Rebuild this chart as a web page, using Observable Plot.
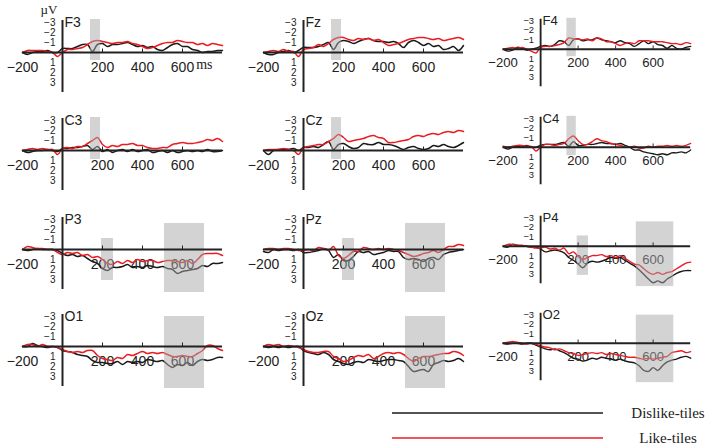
<!DOCTYPE html>
<html><head><meta charset="utf-8">
<script src="https://cdn.jsdelivr.net/npm/d3@7"></script>
<script src="https://cdn.jsdelivr.net/npm/@observablehq/plot@0.6"></script>
<style>
body{margin:0;background:#fff;}
#chart{position:relative;width:708px;height:445px;overflow:hidden;font-family:"Liberation Sans",Arial,sans-serif;}
.panel{position:absolute;}
.panel svg{overflow:visible;}
</style></head><body><div id="chart"></div>
<script>
// sample times (ms)
const times = [-200,-175,-150,-125,-100,-75,-50,-25,0,25,50,75,100,125,150,175,200,225,250,275,300,325,350,375,400,425,450,475,500,525,550,575,600,625,650,675,700,725,750,775,800];

// amplitudes (µV), negative is up
const likeF3 = [0,-0.2,-0.2,-0.2,-0.2,-0.1,0,0.4, 0,-0.3,-0.3,-0.4,-0.5,-0.8,-1.1,-1.2,-1.1,-1.0,-0.9,-1.0,-1.0,-1.1,-0.9,-0.8,-0.6,-0.4,-0.5,-0.7,-0.9,-1.0,-1.0,-1.2,-1.1,-1.0,-1.0,-0.8,-0.9,-0.7,-0.9,-0.8,-0.7];
const dislikeF3 = [0,0.2,0,-0.1,-0.1,-0.2,0,0, -0.4,-0.4,-0.4,-0.6,-0.8,-0.8,-0.1,-0.8,-0.9,-0.6,-0.8,-0.8,-0.9,-1.0,-0.8,-0.6,-0.7,-0.5,-0.6,-0.3,-0.2,-0.5,-0.8,-0.9,-0.6,-0.6,-0.3,-0.2,0,-0.1,-0.1,-0.2,-0.2];
const likeFz = [0,-0.1,-0.2,-0.1,-0.3,-0.1,-0.1,0.4, -0.3,-0.4,-0.5,-0.8,-0.6,-0.9,-1.3,-1.5,-1.5,-1.3,-1.2,-1.4,-1.3,-1.4,-1.2,-1.3,-1.0,-0.7,-0.8,-0.9,-1.1,-1.3,-1.4,-1.5,-1.5,-1.4,-1.3,-1.4,-1.2,-1.3,-1.4,-1.5,-1.3];
const dislikeFz = [0,0.2,0.2,0,-0.1,-0.2,0,-0.2, -0.5,-0.5,-0.5,-0.6,-0.8,-1.0,-0.3,-1.0,-1.2,-1.1,-0.9,-1.1,-1.3,-1.4,-1.2,-1.1,-1.1,-1.0,-1.1,-0.9,-0.5,-1.0,-1.2,-1.0,-0.7,-0.9,-0.6,-0.7,-0.3,-0.4,-0.6,-0.2,-0.7];
const likeF4 = [0,-0.1,-0.2,-0.1,-0.2,0,0.2,0.4, -0.2,-0.3,-0.3,-0.4,-0.5,-0.7,-1.2,-1.1,-1.1,-1.0,-1.1,-0.9,-1.2,-1.1,-0.8,-0.8,-0.6,-0.4,-0.6,-0.7,-0.6,-0.9,-0.9,-0.9,-0.8,-0.8,-0.8,-0.7,-0.6,-0.6,-0.5,-0.7,-0.6];
const dislikeF4 = [0,0.2,0.1,-0.2,-0.1,0.1,0,-0.1, -0.3,-0.4,-0.3,-0.5,-0.9,-0.8,-0.4,-1.0,-1.1,-0.9,-1.0,-1.0,-1.2,-1.0,-0.9,-0.8,-0.7,-0.9,-0.7,-0.6,-0.3,-0.6,-0.9,-0.6,-0.8,-0.5,-0.4,-0.1,-0.4,-0.1,0,-0.2,-0.3];
const likeC3 = [0,-0.1,-0.2,-0.1,-0.2,-0.1,-0.1,0.4, -0.2,-0.3,-0.2,-0.4,-0.4,-0.7,-1.0,-1.3,-0.6,-0.3,-0.5,-0.4,-0.6,-0.6,-0.7,-0.5,-0.5,-0.3,-0.2,-0.2,-0.3,-0.3,-0.6,-0.7,-0.8,-0.7,-0.7,-0.8,-0.9,-1.1,-1.0,-1.2,-0.9];
const dislikeC3 = [0,0.2,0.1,0,0,-0.1,0,0.1, -0.2,-0.2,-0.3,-0.3,-0.4,-0.5,-0.1,-0.4,0.1,-0.1,0.2,0,-0.1,0.1,-0.1,0.1,0,-0.1,0.2,0.1,0,0.2,0,0.2,0.1,0,0.1,0,0.1,-0.1,0.1,0.1,0];
const likeCz = [0,-0.1,-0.1,-0.1,-0.2,-0.1,0,0.4, -0.3,-0.4,-0.5,-0.6,-0.6,-0.9,-1.2,-1.6,-1.3,-0.9,-1.0,-1.1,-1.2,-1.4,-1.5,-1.3,-1.2,-0.8,-0.8,-0.9,-1.0,-1.1,-1.4,-1.5,-1.4,-1.6,-1.7,-1.6,-1.8,-1.9,-1.8,-2.0,-1.9];
const dislikeCz = [0,0.4,0,-0.1,-0.1,-0.1,-0.2,0, -0.3,-0.3,-0.4,-0.3,-0.6,-0.9,-0.1,-0.6,-0.7,-0.4,-0.2,-0.3,-0.7,-0.6,-0.6,-0.8,-0.6,-0.6,-0.5,-0.3,-0.1,-0.3,-0.4,-0.2,-0.1,-0.2,-0.5,-0.4,-0.6,-0.4,-0.3,-0.5,-0.8];
const likeC4 = [-0.1,0,-0.1,-0.2,-0.2,-0.1,-0.1,0.4, 0,-0.3,-0.3,-0.2,-0.3,-0.4,-0.9,-1.2,-0.7,-0.3,-0.3,-0.6,-0.9,-0.7,-0.6,-0.4,-0.3,-0.2,0,0,-0.1,0.1,0.1,-0.1,0,-0.1,-0.1,-0.2,-0.1,-0.2,-0.1,-0.2,-0.4];
const dislikeC4 = [0,0.2,0,-0.1,0,-0.2,0,0, -0.2,-0.3,-0.3,-0.3,-0.4,-0.5,-0.1,-0.6,-0.2,-0.2,-0.3,-0.3,-0.4,-0.5,-0.4,-0.4,-0.3,-0.4,-0.2,0,0.3,0.3,0.5,0.6,0.7,0.8,0.7,0.8,0.6,0.6,0.5,0.6,0.3];
const likeP3 = [0,-0.3,-0.2,-0.1,-0.1,0,0,0.3, 0.5,0.3,0.4,0.3,0.6,0.5,0.8,0.7,1.0,1.4,1.5,1.2,1.4,1.1,1.3,1.0,1.2,1.1,1.1,1.3,1.2,1.1,1.1,1.2,1.3,1.1,1.4,1.0,0.5,0.4,0.4,0.4,0.6];
const dislikeP3 = [0,0.1,0,-0.1,0,0,0,0.1, 0.4,0.6,0.5,0.7,0.6,0.9,1.2,1.4,1.9,2.1,1.8,1.8,1.7,1.5,1.8,1.7,1.8,1.6,1.7,1.8,1.7,1.9,2.0,2.4,2.2,2.1,2.0,1.9,1.6,1.7,1.4,1.4,1.3];
const likePz = [0,-0.1,-0.1,0,-0.1,-0.1,0,0.1, 0.1,0,0.1,-0.2,-0.1,0.1,-0.3,0.6,0.9,0.6,0.2,0.2,-0.2,-0.1,0,-0.1,0,-0.1,0,0.1,0.3,0.5,0.7,0.6,0.4,0.3,0.1,0.3,0,-0.3,-0.3,-0.5,-0.4];
const dislikePz = [0.2,0.3,0,0.1,0,0,0.1,0, 0.3,0.3,0.2,0.1,-0.1,0.1,0.8,0.5,1.1,1.1,0.7,0.2,0.3,0.2,0.5,0.4,0.3,0.1,0.2,0.2,0.8,1.0,0.9,1.0,1.2,0.9,0.8,1.0,0.5,0.3,0.2,0.1,0];
const likeP4 = [0,-0.2,-0.2,-0.1,-0.1,0,0.1,0.2, 0.2,0.1,0.3,0.2,0.4,0.2,0.8,0.6,1.1,1.4,1.2,1.0,1.0,0.9,1.1,1.0,1.2,1.0,1.3,1.6,1.9,2.0,2.4,2.8,3.0,2.8,3.0,2.8,2.7,2.4,2.1,1.8,1.7];
const dislikeP4 = [0,0.1,-0.2,-0.1,0,0,0.1,0.1, 0.3,0.6,0.5,0.4,0.5,0.7,1.2,1.5,1.9,2.3,1.8,1.6,1.7,1.6,1.4,1.2,1.3,1.2,1.5,1.8,2.1,2.5,3.0,3.5,3.9,3.7,3.9,3.5,3.2,2.9,2.7,2.6,2.6];
const likeO1 = [0,-0.2,-0.2,0,-0.2,0,0,0.1, 0.3,0.5,0.6,0.5,0.6,0.4,0.4,0.9,1.2,1.3,1.4,1.1,1.2,0.8,0.9,0.7,0.5,0.7,0.6,0.7,0.6,0.8,1.0,1.0,0.9,1.0,1.0,0.7,0.4,-0.1,-0.1,0.2,0.4];
const dislikeO1 = [0,0,-0.3,-0.1,0,0.1,0,0.1, 0.4,0.5,0.6,0.8,0.9,1.0,1.4,1.6,1.6,1.7,1.7,1.5,1.8,1.5,1.6,1.5,1.6,1.3,1.4,1.5,1.4,1.8,2.1,1.8,1.9,1.6,1.9,1.5,1.3,1.4,1.3,1.1,1.1];
const likeOz = [0,-0.2,-0.1,-0.2,0,-0.1,0,0.1, 0.3,0.5,0.6,0.6,0.5,0.5,1.0,1.2,1.5,1.4,1.1,0.9,1.0,0.8,1.2,1.0,0.7,0.6,0.7,0.6,0.8,1.2,1.5,1.2,1.0,1.0,0.9,0.8,0.7,0.7,0.5,0.6,0.9];
const dislikeOz = [0,0.1,0,0.1,0,0.1,0,0, 0.4,0.6,0.7,0.8,0.6,0.8,1.3,1.5,1.7,1.8,1.6,1.5,1.6,1.3,1.4,1.5,1.4,1.3,1.3,1.4,1.5,2.0,2.5,2.4,2.3,2.5,1.8,1.6,1.4,1.5,1.4,1.2,1.5];
const likeO2 = [0,-0.1,-0.2,-0.1,0,0.1,0,0.1, 0.3,0.4,0.5,0.7,0.6,0.8,1.0,1.1,1.3,1.2,1.1,1.0,1.1,1.0,1.2,1.1,1.2,1.3,1.4,1.5,1.5,1.6,1.7,1.6,1.7,1.6,1.5,1.4,1.0,0.9,0.8,1.0,0.9];
const dislikeO2 = [0,0.1,0,0,0.1,0,0,0.2, 0.4,0.6,0.7,0.6,0.8,1.0,1.3,1.6,1.7,1.9,1.8,1.6,1.7,1.5,1.6,1.7,1.8,1.7,1.9,2.0,2.1,2.4,2.9,3.0,2.6,2.9,2.4,2.0,1.8,1.7,1.5,1.4,1.6];

const electrodes = ["F3","Fz","F4","C3","Cz","C4","P3","Pz","P4","O1","Oz","O2"];
const electrodeRows = ["F","F","F","C","C","C","P","P","P","O","O","O"];
const dislikeSeries = [dislikeF3,dislikeFz,dislikeF4,dislikeC3,dislikeCz,dislikeC4,dislikeP3,dislikePz,dislikeP4,dislikeO1,dislikeOz,dislikeO2];
const likeSeries = [likeF3,likeFz,likeF4,likeC3,likeCz,likeC4,likeP3,likePz,likeP4,likeO1,likeOz,likeO2];
const conditions = ["Dislike-tiles","Like-tiles"];
const conditionColors = ["#1a1a1a","#ea1c22"];
const xDomain = [-200, 800];
const xTickValues = [-200,200,400,600];
const yTickValues = [-3,-2,-1,1,2,3];
const yAxisExtent = [-3.2, 4.0];
// analysis windows (grey)
const bandRows = ["F","C","P","P","O"];
const bandStart = [140,140,195,510,510];
const bandEnd = [190,190,255,710,710];
const bandTop = [-3.3,-3.3,-1.1,-2.6,-3.0];
const bandBottom = [0.8,0.9,3.1,4.3,4.2];

const fmt = v => v < 0 ? "\u2212" + Math.abs(v) : String(v);
const chart = document.getElementById("chart");
const colLefts = [0, 241, 482];
const rowTops = [0, 98, 197, 294];
const sans = "'Liberation Sans', Arial, sans-serif";
const serif = "'Liberation Serif', 'Times New Roman', serif";

electrodes.forEach((name, i) => {
  const data = [];
  times.forEach((t, k) => data.push({t, v: dislikeSeries[i][k], cond: conditions[0]}));
  times.forEach((t, k) => data.push({t, v: likeSeries[i][k], cond: conditions[1]}));
  const bands = bandRows.map((r, j) => ({r, x1: bandStart[j], x2: bandEnd[j], y1: bandTop[j], y2: bandBottom[j]}))
    .filter(b => b.r === electrodeRows[i]);
  const extra = i === 0 ? [
    Plot.text(["\u00b5V"], {frameAnchor: "top-left", dx: 18, dy: 4, fontFamily: serif, fontSize: 13, fill: "#222"}),
    Plot.text(["ms"], {frameAnchor: "top-right", dx: -10, dy: 59, fontFamily: serif, fontSize: 14, fill: "#222"})
  ] : [];
  const p = Plot.plot({
    width: 241, height: 98,
    marginLeft: 22, marginRight: 19, marginTop: 0, marginBottom: 0,
    x: {domain: xDomain, axis: null},
    y: {domain: [4.6, -5.2], axis: null},
    color: {domain: conditions, range: conditionColors},
    style: {fontFamily: sans, background: "transparent", overflow: "visible"},
    marks: [
      Plot.text(xTickValues, {x: d => d, y: 0, dy: 15, text: fmt, fontSize: 14, fill: "#222"}),
      Plot.text(yTickValues, {x: 0, y: d => d, dx: -7, textAnchor: "end", text: fmt, fontSize: 10, fill: "#222"}),
      Plot.text([name], {x: 0, y: yTickValues[0], dx: 2, textAnchor: "start", fontSize: 14, fill: "#222"}),
      Plot.line(data, {x: "t", y: "v", stroke: "cond", z: "cond", strokeWidth: 1.5, curve: "catmull-rom"}),
      Plot.rect(bands, {x1: "x1", x2: "x2", y1: "y1", y2: "y2", fill: "#a8a8a8", fillOpacity: 0.5}),
      Plot.ruleY([0], {x1: xDomain[0], x2: xDomain[1], stroke: "#222", strokeWidth: 2}),
      Plot.ruleX([0], {y1: yAxisExtent[0], y2: yAxisExtent[1], stroke: "#222", strokeWidth: 2}),
      Plot.ruleX(xTickValues.filter(v => v > 0), {y1: 0, y2: -0.35, stroke: "#222", strokeWidth: 1}),
      ...extra
    ]
  });
  const div = document.createElement("div");
  div.className = "panel";
  div.style.left = colLefts[i % 3] + "px";
  div.style.top = rowTops[Math.floor(i / 3)] + "px";
  div.appendChild(p);
  chart.appendChild(div);
});

// legend
const ns = "http://www.w3.org/2000/svg";
const leg = document.createElementNS(ns, "svg");
leg.setAttribute("width", 708); leg.setAttribute("height", 53);
leg.style.position = "absolute"; leg.style.left = "0px"; leg.style.top = "392px";
conditions.forEach((c, k) => {
  const y = 21 + k * 25;
  const ln = document.createElementNS(ns, "line");
  ln.setAttribute("x1", 392); ln.setAttribute("x2", 603);
  ln.setAttribute("y1", y); ln.setAttribute("y2", y);
  ln.setAttribute("stroke", conditionColors[k]); ln.setAttribute("stroke-width", 1.5);
  leg.appendChild(ln);
  const tx = document.createElementNS(ns, "text");
  tx.setAttribute("x", 668); tx.setAttribute("y", y);
  tx.setAttribute("dy", "0.32em");
  tx.setAttribute("text-anchor", "middle");
  tx.setAttribute("font-family", serif);
  tx.setAttribute("font-size", 15);
  tx.setAttribute("fill", "#222");
  tx.textContent = c;
  leg.appendChild(tx);
});
chart.appendChild(leg);
</script></body></html>
